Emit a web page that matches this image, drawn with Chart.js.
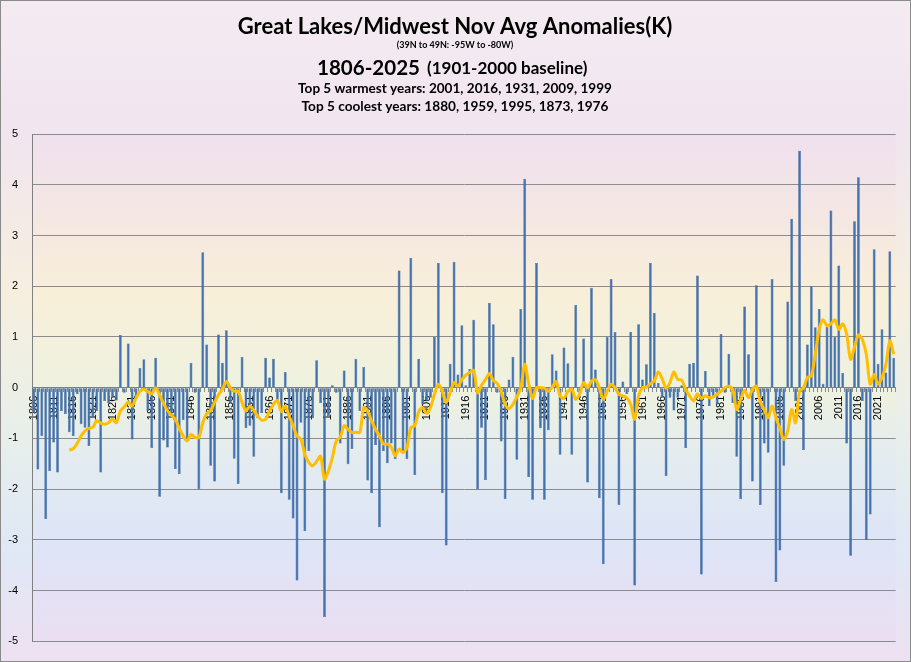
<!DOCTYPE html>
<html>
<head>
<meta charset="utf-8">
<title>Great Lakes/Midwest Nov Avg Anomalies(K)</title>
<script src="https://cdn.jsdelivr.net/npm/chart.js"></script>
<style>
  html, body { margin: 0; padding: 0; background: #fff; }
  #wrap { width: 911px; height: 662px; }
</style>
</head>
<body>
<div id="wrap"><canvas id="chart" width="911" height="662"></canvas></div>
<script>
// November anomalies (K), 1806-2025
const firstYear = 1806;
const lastYear = 2025;

const years = [];
for (let y = firstYear; y <= lastYear; y++) years.push(String(y));

const anomalies = [
    -0.5, -1.61, -0.95, -2.59,                                         // 1806-1809
    -1.64, -1.08, -1.67, -0.46, -0.52, -0.88, -0.95, -0.13, -0.72, -0.79, // 1810s
    -1.15, -0.59, -0.46, -1.67, -0.26, -0.3, -0.2, -0.25, 1.04, -0.1,    // 1820s
    0.87, -1.02, -0.2, 0.39, 0.56, -0.46, -1.19, 0.59, -2.15, -1.04,     // 1830s
    -1.18, -0.5, -1.6, -1.7, -0.64, -1.05, 0.49, -0.1, -2.0, 2.67,       // 1840s
    0.85, -1.54, -1.85, 1.05, 0.49, 1.13, -0.3, -1.4, -1.9, 0.61,        // 1850s
    -0.8, -0.75, -1.36, -0.6, -0.5, 0.59, 0.2, 0.57, -0.25, -2.08,       // 1860s
    0.31, -2.21, -2.58, -3.8, -0.69, -2.83, -1.25, -0.6, 0.54, -0.3,     // 1870s
    -4.52, -0.56, 0.05, -0.1, -1.1, 0.34, -1.51, -1.21, 0.57, -0.46,     // 1880s
    0.41, -1.83, -2.08, -1.13, -2.75, -1.25, -1.49, -1.1, -1.41, 2.31,   // 1890s
    -1.25, -1.41, 2.56, -1.72, 0.57, -0.33, -0.26, -0.2, 1.0, 2.46,      // 1900s
    -2.08, -3.11, 0.47, 2.48, 0.26, 1.23, 0.05, 0.37, 1.34, -2.0,        // 1910s
    -0.79, -1.82, 1.67, 1.25, -0.1, -1.06, -2.2, 0.16, 0.61, -1.42,      // 1920s
    1.55, 4.12, -1.76, -2.21, 2.46, -0.8, -2.21, -0.84, 0.66, 0.34,      // 1930s
    -1.32, 0.79, 0.48, -1.32, 1.63, -0.1, 0.97, -1.87, 1.97, 0.36,       // 1940s
    -2.18, -3.48, 1.0, 2.14, 1.1, -2.31, 0.12, -0.13, 1.1, -3.9,         // 1950s
    1.25, 0.16, 0.46, 2.46, 1.47, 0.1, -0.2, -1.74, -0.2, -0.45,         // 1960s
    -0.2, 0.05, -1.19, 0.47, 0.49, 2.21, -3.68, 0.33, -0.36, -0.2,       // 1970s
    -0.33, 1.06, -0.1, 0.67, -0.3, -1.36, -2.2, 1.6, 0.66, -1.85,        // 1980s
    2.02, -2.31, -1.1, -1.28, 2.14, -3.83, -3.21, -1.54, 1.7, 3.33,      // 1990s
    -0.26, 4.67, -1.23, 0.85, 2.0, 1.19, 1.55, 0.08, 1.2, 3.49,          // 2000s
    1.0, 2.41, 0.29, -1.1, -3.31, 3.28, 4.15, -0.26, -3.0, -2.5,         // 2010s
    2.73, 0.47, 1.15, 0.3, 2.69, 0.59                                    // 2020-2025
];

// orange smoothed line (starts 1815)
const avgLine = [
    null, null, null, null,
    null, null, null, null, null, -1.23, -1.2, -1.1, -0.95, -0.85,
    -0.8, -0.78, -0.65, -0.7, -0.72, -0.69, -0.62, -0.69, -0.46, -0.38,
    -0.28, -0.36, -0.2, -0.07, -0.03, -0.08, -0.12, 0.0, -0.14, -0.31,
    -0.45, -0.54, -0.62, -0.8, -0.95, -1.05, -0.92, -0.98, -0.98, -0.69,
    -0.51, -0.45, -0.29, -0.14, -0.03, 0.12, 0.0, -0.07, -0.07, -0.29,
    -0.46, -0.36, -0.45, -0.56, -0.64, -0.62, -0.46, -0.33, -0.25, -0.47,
    -0.36, -0.56, -0.75, -0.95, -1.02, -1.31, -1.47, -1.54, -1.45, -1.35,
    -1.8, -1.64, -1.38, -1.05, -0.98, -0.75, -0.82, -0.88, -0.88, -0.88,
    -0.39, -0.46, -0.66, -0.82, -0.95, -1.11, -1.11, -1.17, -1.34, -1.21,
    -1.28, -1.18, -0.79, -0.75, -0.47, -0.39, -0.51, -0.39, -0.13, 0.07,
    -0.07, -0.29, -0.1, 0.1, 0.03, 0.16, 0.25, 0.3, 0.34, -0.1,
    0.05, 0.16, 0.28, 0.14, 0.08, -0.07, -0.33, -0.41, -0.33, -0.18,
    0.0, 0.46, 0.08, -0.21, 0.0, 0.0, -0.01, -0.07, 0.01, 0.12,
    -0.16, -0.21, -0.07, -0.03, -0.23, -0.12, 0.1, 0.0, 0.13, 0.16,
    0.0, -0.23, -0.07, 0.07, 0.0, -0.13, -0.16, -0.2, -0.33, -0.62,
    -0.16, 0.0, 0.01, 0.08, 0.13, 0.31, 0.18, -0.01, 0.1, 0.31,
    0.16, 0.15, -0.03, -0.16, -0.26, -0.12, -0.21, -0.16, -0.2, -0.18,
    -0.13, -0.07, 0.0, 0.03, -0.05, -0.43, -0.23, -0.05, -0.2, -0.03,
    0.03, -0.28, -0.43, -0.59, -0.36, -0.59, -0.8, -1.02, -0.85, -0.43,
    -0.69, -0.07, 0.0, 0.2, 0.23, 0.66, 1.15, 1.34, 1.22, 1.26,
    1.34, 1.15, 1.26, 1.05, 0.56, 0.8, 1.04, 0.95, 0.66, 0.07,
    0.26, 0.07, 0.2, 0.46, 0.92, 0.66
];

const yMin = -5;
const yMax = 5;
const labelEvery = 5;

const titleText = 'Great Lakes/Midwest Nov Avg Anomalies(K)';
const regionText = '(39N to 49N: -95W to -80W)';
const periodText = '1806-2025';
const baselineText = '(1901-2000 baseline)';
const warmText = 'Top 5 warmest years: 2001, 2016, 1931, 2009, 1999';
const coolText = 'Top 5 coolest years: 1880, 1959, 1995, 1873, 1976';

const TITLE_FONT = 'Lato, "Open Sans", sans-serif';
const AXIS_FONT = '"Liberation Sans", Arial, sans-serif';

// pick a bold font size so the text spans the wanted width
function fitFont(ctx, text, width, maxSize) {
    let size = maxSize;
    ctx.font = `bold ${size}px ${TITLE_FONT}`;
    const w = ctx.measureText(text).width;
    size = Math.min(maxSize, maxSize * width / w);
    return `bold ${size.toFixed(2)}px ${TITLE_FONT}`;
}

const backdrop = {
    id: 'backdrop',
    beforeDraw(chart) {
        const { ctx, width, height, chartArea: a } = chart;
        ctx.save();
        let g = ctx.createLinearGradient(0, 0, 0, height);
        g.addColorStop(0, '#f4ebf2');
        g.addColorStop(0.2, '#f1e5ef');
        g.addColorStop(0.45, '#f6efdf');
        g.addColorStop(0.65, '#e8efea');
        g.addColorStop(0.82, '#e0e8f6');
        g.addColorStop(1, '#ede1f1');
        ctx.fillStyle = g;
        ctx.fillRect(0, 0, width, height);

        g = ctx.createLinearGradient(0, a.top, 0, a.bottom);
        g.addColorStop(0, '#efe0ee');
        g.addColorStop(0.18, '#f5e8e2');
        g.addColorStop(0.32, '#f8efd8');
        g.addColorStop(0.5, '#eef2e0');
        g.addColorStop(0.65, '#e3ebf1');
        g.addColorStop(0.8, '#dde5f7');
        g.addColorStop(1, '#ebdef2');
        ctx.fillStyle = g;
        ctx.fillRect(a.left, a.top, a.right - a.left, a.bottom - a.top);
        ctx.restore();
    },
    afterDraw(chart) {
        const { ctx, width, height } = chart;
        const cx = 455;
        ctx.save();
        ctx.fillStyle = '#000';
        ctx.textBaseline = 'middle';
        ctx.textAlign = 'center';

        ctx.font = fitFont(ctx, titleText, 441, 22);
        ctx.fillText(titleText, cx, 27);

        ctx.font = fitFont(ctx, regionText, 127, 9);
        ctx.fillText(regionText, cx, 45);

        // "1806-2025" bigger, then the baseline note
        ctx.textAlign = 'left';
        ctx.font = fitFont(ctx, periodText, 103, 22);
        ctx.fillText(periodText, 317, 68);
        ctx.font = fitFont(ctx, baselineText, 165, 17);
        ctx.fillText(baselineText, 427, 69);

        ctx.textAlign = 'center';
        ctx.font = fitFont(ctx, warmText, 314, 14);
        ctx.fillText(warmText, cx, 89);
        ctx.font = fitFont(ctx, coolText, 307, 14);
        ctx.fillText(coolText, cx, 107);

        // outer frame
        ctx.strokeStyle = '#8a8a8a';
        ctx.lineWidth = 1;
        ctx.strokeRect(0.5, 0.5, width - 1, height - 1);
        ctx.restore();
    }
};

new Chart(document.getElementById('chart').getContext('2d'), {
    type: 'bar',
    data: {
        labels: years,
        datasets: [
            {
                type: 'line',
                label: '10 yr avg',
                data: avgLine,
                borderColor: '#ffbe00',
                borderWidth: 3,
                pointRadius: 0,
                tension: 0.3,
                spanGaps: false,
                order: 0
            },
            {
                label: 'Nov anomaly',
                data: anomalies,
                backgroundColor: '#4272b0',
                borderColor: '#335d96',
                borderWidth: 0.5,
                barPercentage: 0.72,
                categoryPercentage: 1.0,
                order: 1
            }
        ]
    },
    options: {
        responsive: false,
        animation: false,
        devicePixelRatio: 1,
        layout: { padding: { top: 134, right: 15, bottom: 16, left: 0 } },
        plugins: {
            legend: { display: false },
            tooltip: { enabled: false }
        },
        scales: {
            x: {
                position: { y: 0 },
                offset: true,
                grid: { display: true, drawOnChartArea: false, drawTicks: true, tickLength: 4, color: '#8a8a8a' },
                border: { display: true, color: '#808080', width: 1 },
                ticks: {
                    autoSkip: false,
                    minRotation: 90,
                    maxRotation: 90,
                    padding: 4,
                    color: '#000',
                    font: { family: AXIS_FONT, size: 11 },
                    callback: (value, index) => (index % labelEvery === 0 ? years[index] : '')
                }
            },
            y: {
                min: yMin,
                max: yMax,
                afterFit: (scale) => { scale.width = 32; },
                ticks: { stepSize: 1, padding: 14, color: '#000', font: { family: AXIS_FONT, size: 11 } },
                grid: { color: '#8c8c8c', drawTicks: false },
                border: { display: true, color: '#808080' }
            }
        }
    },
    plugins: [backdrop]
});
</script>
</body>
</html>
